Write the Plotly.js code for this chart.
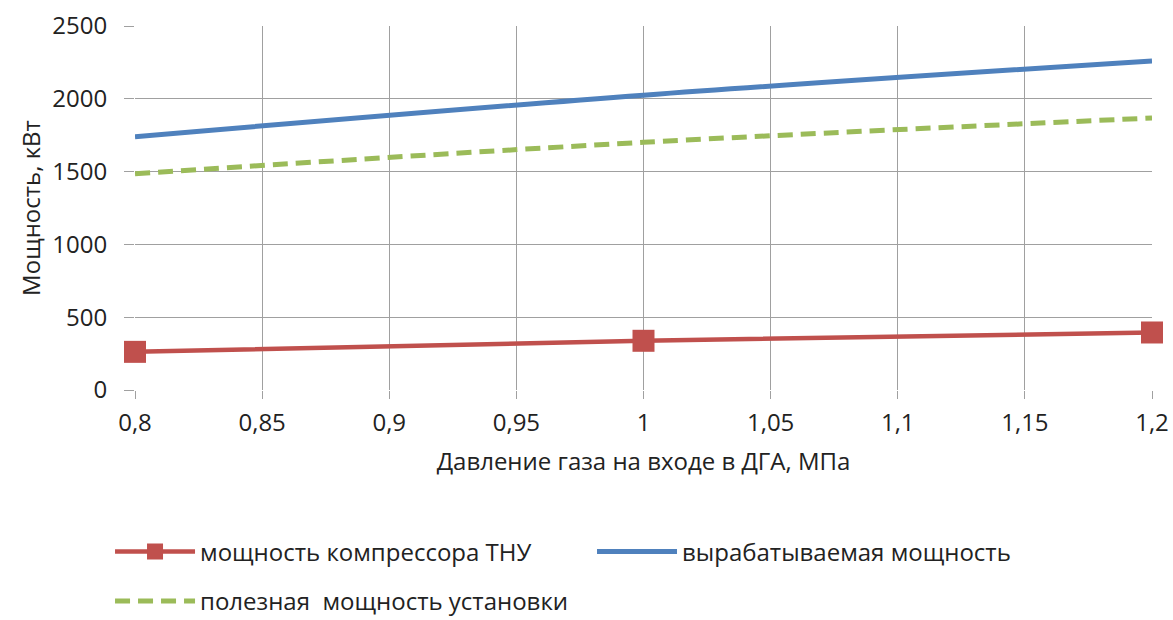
<!DOCTYPE html>
<html>
<head>
<meta charset="utf-8">
<script src="https://cdn.plot.ly/plotly-3.0.1.min.js"></script>
<style>body{margin:0;background:#fff}#chart{width:1173px;height:620px}</style>
</head>
<body>
<div id="chart"></div>
<script>
const pressure = [0.8, 1.0, 1.2];
const compressorPower = [262, 338, 395];
const generatedPower = [1740, 2025, 2260];
const usefulPower = [1486, 1701, 1868];
const xTickVals = [0.8, 0.85, 0.9, 0.95, 1.0, 1.05, 1.1, 1.15, 1.2];
const xTickText = ['0,8', '0,85', '0,9', '0,95', '1', '1,05', '1,1', '1,15', '1,2'];
const yTickVals = [0, 500, 1000, 1500, 2000, 2500];

const FONT = 'Open Sans, Liberation Sans, sans-serif';
const traces = [
  {x: pressure, y: compressorPower, name: 'мощность компрессора ТНУ', type: 'scatter', mode: 'lines+markers',
   line: {color: '#c0504d', width: 4.5, shape: 'spline'}, marker: {symbol: 'square', size: 22, color: '#c0504d'},
   cliponaxis: false, legend: 'legend'},
  {x: pressure, y: generatedPower, name: 'вырабатываемая мощность', type: 'scatter', mode: 'lines',
   line: {color: '#4f81bd', width: 5, shape: 'spline'}, legend: 'legend2'},
  {x: pressure, y: usefulPower, name: 'полезная  мощность установки', type: 'scatter', mode: 'lines',
   line: {color: '#9bbb59', width: 5, dash: '15px,8px', shape: 'spline'}, legend: 'legend3'}
];
const legBase = {orientation: 'h', xref: 'container', yref: 'container', yanchor: 'middle',
  font: {size: 24, family: FONT}, bgcolor: 'rgba(0,0,0,0)', itemwidth: 80};
const layout = {
  width: 1173, height: 620,
  margin: {l: 135, r: 21, t: 26, b: 230},
  paper_bgcolor: '#fff', plot_bgcolor: '#fff',
  font: {family: FONT, color: '#222', size: 22},
  xaxis: {range: [0.8, 1.2], tickvals: xTickVals, ticktext: xTickText,
    showgrid: true, gridcolor: '#a0a0a0', gridwidth: 1, zeroline: false,
    ticks: 'outside', ticklen: 8, tickcolor: '#a0a0a0', tickwidth: 1,
    tickfont: {size: 24, family: FONT}, ticklabelstandoff: 3,
    title: {text: 'Давление газа на входе в ДГА, МПа', font: {size: 24, family: FONT}, standoff: 16}},
  yaxis: {range: [0, 2500], tickvals: yTickVals,
    showgrid: true, gridcolor: '#a0a0a0', gridwidth: 1, zeroline: false,
    ticks: 'outside', ticklen: 10, tickcolor: '#a0a0a0', tickwidth: 1,
    tickfont: {size: 24, family: FONT}, ticklabelstandoff: 12,
    title: {text: 'Мощность, кВт', font: {size: 24, family: FONT}, standoff: 4}},
  legend: Object.assign({}, legBase, {x: 0.0938, y: 0.1097}),
  legend2: Object.assign({}, legBase, {x: 0.5047, y: 0.1097}),
  legend3: Object.assign({}, legBase, {x: 0.0938, y: 0.03}),
  showlegend: true
};
Plotly.newPlot('chart', traces, layout, {displayModeBar: false, staticPlot: true});
</script>
</body>
</html>
